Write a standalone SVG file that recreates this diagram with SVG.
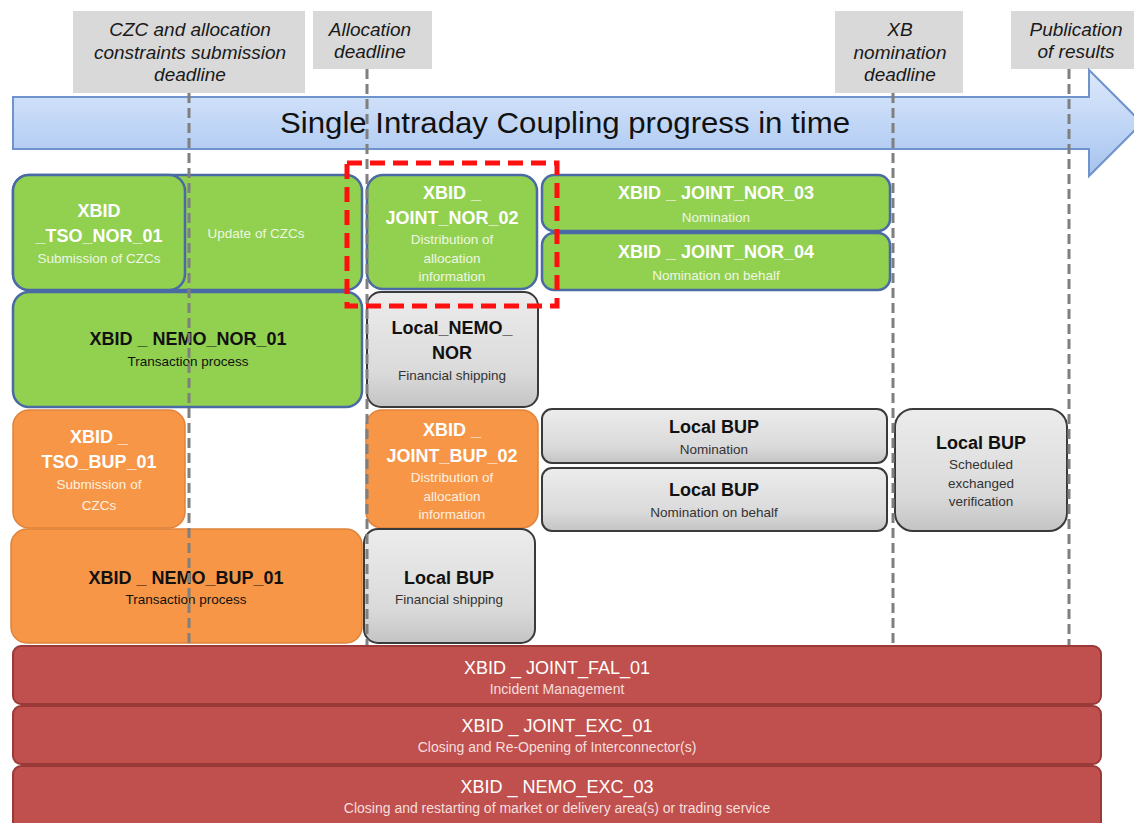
<svg xmlns="http://www.w3.org/2000/svg" width="1134" height="823" viewBox="0 0 1134 823">
<defs>
<linearGradient id="gArrow" x1="0" y1="0" x2="0" y2="1">
<stop offset="0" stop-color="#dde9fb"/>
<stop offset="0.6" stop-color="#bcd3f5"/>
<stop offset="1" stop-color="#a6c3ee"/>
</linearGradient>
<linearGradient id="gGrey" x1="0" y1="0" x2="0" y2="1">
<stop offset="0" stop-color="#ececec"/>
<stop offset="0.7" stop-color="#dadada"/>
<stop offset="1" stop-color="#c4c4c4"/>
</linearGradient>
<style>
.hdr{fill:#d9d9d9}
.htxt{font-family:"Liberation Sans",Arial,sans-serif;font-style:italic;font-size:19px;fill:#1a1a1a;text-anchor:middle}
.green{fill:#92d050;stroke:#4a6aa5;stroke-width:2.5}
.orange{fill:#f79646;stroke:#e0823a;stroke-width:1.5}
.grey{fill:url(#gGrey);stroke:#3a3a3a;stroke-width:2}
.red{fill:#c0504d;stroke:#9a3a38;stroke-width:2}
.t{font-family:"Liberation Sans",Arial,sans-serif;font-weight:bold;font-size:18px;text-anchor:middle}
.s{font-family:"Liberation Sans",Arial,sans-serif;font-size:13.5px;text-anchor:middle}
.w{fill:#ffffff}
.wg{fill:#eef7e2}
.wo{fill:#fff0e0}
.k{fill:#111111}
.kg{fill:#333333}
.rt{font-family:"Liberation Sans",Arial,sans-serif;font-size:18px;text-anchor:middle;fill:#ffffff}
.rs{font-family:"Liberation Sans",Arial,sans-serif;font-size:14px;text-anchor:middle;fill:#f6dede}
.dash{stroke:#7f7f7f;stroke-width:3;stroke-dasharray:10 5;fill:none}
</style>
</defs>
<rect width="1134" height="823" fill="#ffffff"/>

<g id="milestones">
<rect class="hdr" x="73" y="11" width="232" height="82"/>
<text class="htxt" x="190" y="36">CZC and allocation</text>
<text class="htxt" x="190" y="59">constraints submission</text>
<text class="htxt" x="190" y="81">deadline</text>
<rect class="hdr" x="313" y="11" width="119" height="58"/>
<text class="htxt" x="370" y="36">Allocation</text>
<text class="htxt" x="370" y="58">deadline</text>
<rect class="hdr" x="835" y="11" width="128" height="82"/>
<text class="htxt" x="900" y="36">XB</text>
<text class="htxt" x="900" y="59">nomination</text>
<text class="htxt" x="900" y="81">deadline</text>
<rect class="hdr" x="1011" y="11" width="123" height="58"/>
<text class="htxt" x="1076" y="36">Publication</text>
<text class="htxt" x="1076" y="58">of results</text>
</g>

<g id="timeline">
<path d="M13,97 H1089 V70 L1142,123 L1089,176 V149 H13 Z" fill="url(#gArrow)" stroke="#6f93cc" stroke-width="2"/>
<text x="280" y="133" font-family="'Liberation Sans',Arial,sans-serif" font-size="29" fill="#111111" textLength="570" lengthAdjust="spacingAndGlyphs">Single Intraday Coupling progress in time</text>
</g>

<g id="tso_nor_update">
<rect class="green" x="13" y="175" width="349" height="115" rx="16"/>
<text class="s wg" x="256" y="238">Update of CZCs</text>
</g>
<g id="XBID_TSO_NOR_01">
<rect class="green" x="13" y="175" width="172" height="115" rx="16"/>
<text class="t w" x="99" y="217">XBID</text>
<text class="t w" x="99" y="242">_TSO_NOR_01</text>
<text class="s wg" x="99" y="263">Submission of CZCs</text>
</g>
<g id="XBID_JOINT_NOR_02">
<rect class="green" x="367" y="175" width="170" height="114" rx="16"/>
<text class="t w" x="452" y="199">XBID _</text>
<text class="t w" x="452" y="224">JOINT_NOR_02</text>
<text class="s wg" x="452" y="244">Distribution of</text>
<text class="s wg" x="452" y="263">allocation</text>
<text class="s wg" x="452" y="281">information</text>
</g>
<g id="XBID_JOINT_NOR_03">
<rect class="green" x="542" y="175" width="348" height="56" rx="12"/>
<text class="t w" x="716" y="199">XBID _ JOINT_NOR_03</text>
<text class="s wg" x="716" y="222">Nomination</text>
</g>
<g id="XBID_JOINT_NOR_04">
<rect class="green" x="542" y="233" width="348" height="57" rx="12"/>
<text class="t w" x="716" y="258">XBID _ JOINT_NOR_04</text>
<text class="s wg" x="716" y="280">Nomination on behalf</text>
</g>
<g id="XBID_NEMO_NOR_01">
<rect class="green" x="13" y="292" width="349" height="115" rx="16"/>
<text class="t k" x="188" y="345">XBID _ NEMO_NOR_01</text>
<text class="s k" x="188" y="366">Transaction process</text>
</g>
<g id="Local_NEMO_NOR">
<rect class="grey" x="367" y="292" width="171" height="115" rx="14"/>
<text class="t k" x="452" y="334">Local_NEMO_</text>
<text class="t k" x="452" y="359">NOR</text>
<text class="s kg" x="452" y="380">Financial shipping</text>
</g>
<g id="XBID_TSO_BUP_01">
<rect class="orange" x="13" y="410" width="172" height="118" rx="16"/>
<text class="t w" x="99" y="443">XBID _</text>
<text class="t w" x="99" y="468">TSO_BUP_01</text>
<text class="s wo" x="99" y="489">Submission of</text>
<text class="s wo" x="99" y="510">CZCs</text>
</g>
<g id="XBID_JOINT_BUP_02">
<rect class="orange" x="366" y="410" width="172" height="118" rx="16"/>
<text class="t w" x="452" y="436">XBID _</text>
<text class="t w" x="452" y="462">JOINT_BUP_02</text>
<text class="s wo" x="452" y="482">Distribution of</text>
<text class="s wo" x="452" y="501">allocation</text>
<text class="s wo" x="452" y="519">information</text>
</g>
<g id="XBID_NEMO_BUP_01">
<rect class="orange" x="11" y="529" width="351" height="114" rx="16"/>
<text class="t k" x="186" y="584">XBID _ NEMO_BUP_01</text>
<text class="s k" x="186" y="604">Transaction process</text>
</g>
<g id="Local_BUP_financial">
<rect class="grey" x="364" y="529" width="171" height="114" rx="14"/>
<text class="t k" x="449" y="584">Local BUP</text>
<text class="s kg" x="449" y="604">Financial shipping</text>
</g>
<g id="Local_BUP_nomination">
<rect class="grey" x="542" y="409" width="345" height="54" rx="10"/>
<text class="t k" x="714" y="433">Local BUP</text>
<text class="s kg" x="714" y="454">Nomination</text>
</g>
<g id="Local_BUP_nomination_behalf">
<rect class="grey" x="542" y="468" width="345" height="63" rx="10"/>
<text class="t k" x="714" y="496">Local BUP</text>
<text class="s kg" x="714" y="517">Nomination on behalf</text>
</g>
<g id="Local_BUP_scheduled">
<rect class="grey" x="895" y="409" width="172" height="122" rx="18"/>
<text class="t k" x="981" y="449">Local BUP</text>
<text class="s kg" x="981" y="469">Scheduled</text>
<text class="s kg" x="981" y="488">exchanged</text>
<text class="s kg" x="981" y="506">verification</text>
</g>

<g id="XBID_JOINT_FAL_01">
<rect class="red" x="13" y="646" width="1088" height="58" rx="8"/>
<text class="rt" x="557" y="674">XBID _ JOINT_FAL_01</text>
<text class="rs" x="557" y="694">Incident Management</text>
</g>
<g id="XBID_JOINT_EXC_01">
<rect class="red" x="13" y="706" width="1088" height="58" rx="8"/>
<text class="rt" x="557" y="732">XBID _ JOINT_EXC_01</text>
<text class="rs" x="557" y="752">Closing and Re-Opening of Interconnector(s)</text>
</g>
<g id="XBID_NEMO_EXC_03">
<rect class="red" x="13" y="766" width="1088" height="64" rx="8"/>
<text class="rt" x="557" y="793">XBID _ NEMO_EXC_03</text>
<text class="rs" x="557" y="813">Closing and restarting of market or delivery area(s) or trading service</text>
</g>

<g id="connectors">
<line class="dash" x1="189" y1="93" x2="189" y2="645"/>
<line class="dash" x1="367" y1="69" x2="367" y2="645"/>
<line class="dash" x1="893" y1="93" x2="893" y2="645"/>
<line class="dash" x1="1069" y1="69" x2="1069" y2="645"/>
</g>

<g id="highlight">
<rect x="347" y="163" width="210" height="143" fill="none" stroke="#ff1010" stroke-width="5" stroke-dasharray="15 8"/>
</g>
</svg>
